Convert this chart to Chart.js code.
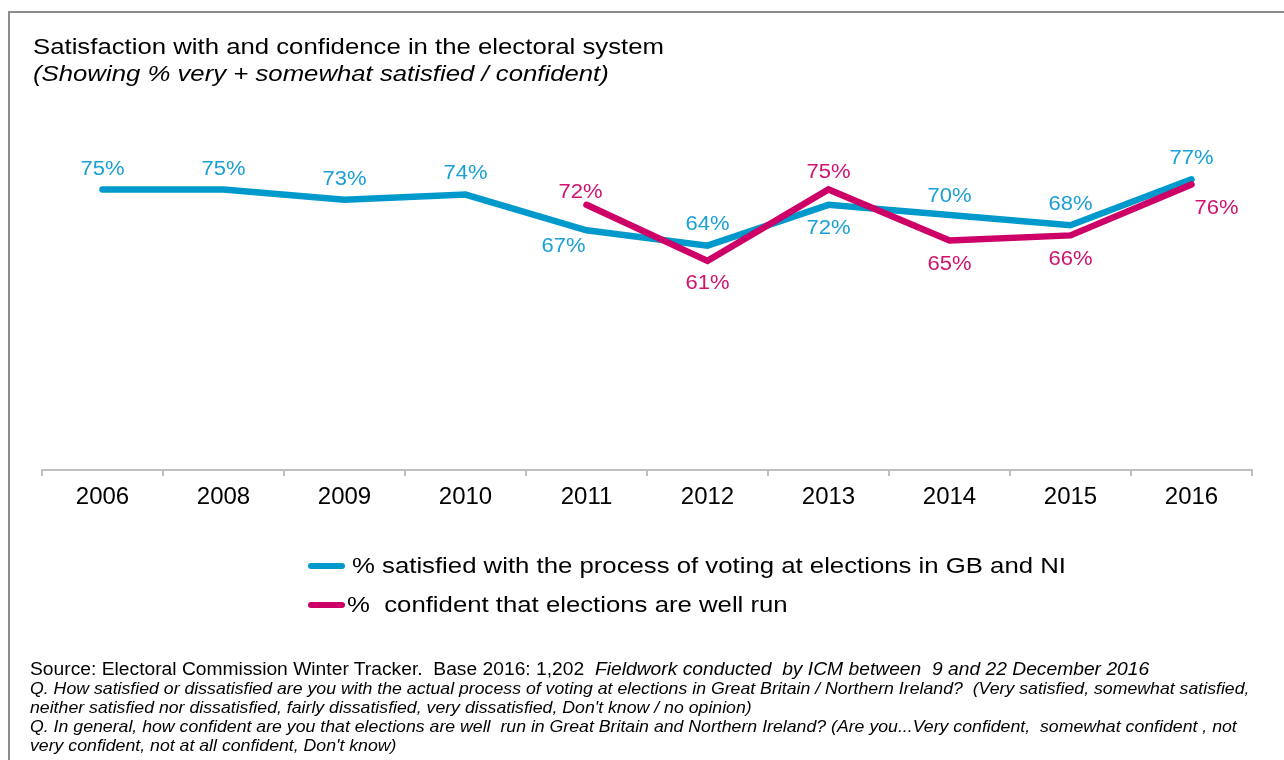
<!DOCTYPE html>
<html>
<head>
<meta charset="utf-8">
<script src="https://cdn.jsdelivr.net/npm/chart.js@4/dist/chart.umd.min.js"></script>
<style>
  html, body { margin: 0; padding: 0; background: #fff; }
  body { width: 1284px; height: 760px; position: relative; overflow: hidden;
         font-family: "Liberation Sans", Arial, sans-serif; color: #000; }
  #frame { position: absolute; left: 8px; top: 11px; right: -4px; bottom: -4px;
           border-left: 2px solid #8c8c8c; border-top: 2px solid #8c8c8c; }
  #wrap { position: absolute; left: 0; top: 0; width: 1284px; height: 760px; }
  .txt { position: absolute; white-space: pre; transform-origin: 0 0; }
  #title { left: 33px; top: 33px; font-size: 22px; line-height: 27px; transform: scaleX(1.17); }
  #title i { font-style: italic; }
  #legend { left: 308px; top: 550px; font-size: 22px; }
  .leg-row { position: relative; height: 39px; }
  .leg-mark { position: absolute; left: 0; top: 13px; width: 37px; height: 6px; border-radius: 3px; }
  .leg-text { position: absolute; top: 3px; white-space: pre; transform-origin: 0 0; transform: scaleX(1.17); }
  #footer { left: 30px; top: 660px; }
  .foot { white-space: pre; transform-origin: 0 0; line-height: 19px; }
  .foot.first { font-size: 17.5px; transform: scaleX(1.1); }
  .foot.q { font-size: 16.1px; font-style: italic; transform: scaleX(1.1); }
</style>
</head>
<body>
<div id="frame"></div>
<div id="wrap"><canvas id="chart"></canvas></div>
<div class="txt" id="title">Satisfaction with and confidence in the electoral system
<i>(Showing % very + somewhat satisfied / confident)</i></div>
<div class="txt" id="legend"></div>
<div class="txt" id="footer"><div class="foot first">Source: Electoral Commission Winter Tracker.  Base 2016: 1,202  <i>Fieldwork conducted  by ICM between  9 and 22 December 2016</i></div><div class="foot q">Q. How satisfied or dissatisfied are you with the actual process of voting at elections in Great Britain / Northern Ireland?  (Very satisfied, somewhat satisfied,</div><div class="foot q">neither satisfied nor dissatisfied, fairly dissatisfied, very dissatisfied, Don't know / no opinion)</div><div class="foot q">Q. In general, how confident are you that elections are well  run in Great Britain and Northern Ireland? (Are you...Very confident,  somewhat confident , not</div><div class="foot q">very confident, not at all confident, Don't know)</div></div>
<script>
// Survey years and results (% very + somewhat)
const years = ['2006', '2008', '2009', '2010', '2011', '2012', '2013', '2014', '2015', '2016'];
const satisfiedVoting = [75, 75, 73, 74, 67, 64, 72, 70, 68, 77];
const confidentWellRun = [null, null, null, null, 72, 61, 75, 65, 66, 76];

const satisfiedLabel = '% satisfied with the process of voting at elections in GB and NI';
const confidentLabel = '%  confident that elections are well run';

const blue = '#0099cc';
const magenta = '#cc0066';

// where each value label sits relative to its point [dx, dy]
const satisfiedLabelPos = [[0, -20], [0, -20], [0, -20], [0, -21], [-23, 16], [0, -21], [0, 24], [0, -19], [0, -21], [0, -21]];
const confidentLabelPos = [null, null, null, null, [-6, -12], [0, 23], [0, -17], [0, 24], [0, 24], [25, 24]];

// value labels next to each point
const valueLabels = {
    id: 'valueLabels',
    afterDatasetsDraw(chart) {
        const ctx = chart.ctx;
        chart.data.datasets.forEach((ds, i) => {
            const meta = chart.getDatasetMeta(i);
            meta.data.forEach((pt, j) => {
                const v = ds.data[j];
                if (v === null || v === undefined) return;
                const off = ds.labelPos[j] || [0, -20];
                ctx.save();
                ctx.translate(pt.x + off[0], pt.y + off[1]);
                ctx.scale(1.1, 1);
                ctx.font = '20px "Liberation Sans", Arial, sans-serif';
                ctx.fillStyle = ds.labelColor;
                ctx.textAlign = 'center';
                ctx.textBaseline = 'middle';
                ctx.fillText(v + '%', 0, 0);
                ctx.restore();
            });
        });
    }
};

const chart = new Chart(document.getElementById('chart'), {
    type: 'line',
    data: {
        labels: years,
        datasets: [
            {
                label: satisfiedLabel,
                data: satisfiedVoting,
                borderColor: blue,
                labelColor: '#1ba0d6',
                borderWidth: 6.5,
                order: 2,
                labelPos: satisfiedLabelPos
            },
            {
                label: confidentLabel,
                data: confidentWellRun,
                borderColor: magenta,
                labelColor: '#d1126f',
                borderWidth: 6.5,
                order: 1,
                labelPos: confidentLabelPos
            }
        ]
    },
    options: {
        responsive: true,
        maintainAspectRatio: false,
        animation: false,
        layout: { padding: { left: 42, right: 32, top: 62, bottom: 230 } },
        elements: {
            line: { tension: 0, borderCapStyle: 'round', borderJoinStyle: 'miter', fill: false },
            point: { radius: 0, hoverRadius: 0 }
        },
        plugins: {
            legend: { display: false },
            tooltip: { enabled: false }
        },
        scales: {
            x: {
                offset: true,
                afterFit(axis) { axis.height = 60; },
                grid: {
                    offset: true,
                    drawOnChartArea: false,
                    drawTicks: true,
                    tickLength: 6,
                    color: '#bfbfbf',
                    lineWidth: 2
                },
                border: { display: true, color: '#bfbfbf', width: 2 },
                ticks: {
                    color: '#000',
                    padding: 7,
                    font: { family: '"Liberation Sans", Arial, sans-serif', size: 24 }
                }
            },
            y: {
                display: false,
                min: 20,
                max: 100
            }
        }
    },
    plugins: [valueLabels]
});

// legend rows built from the datasets
const legendEl = document.getElementById('legend');
chart.data.datasets.forEach((ds, i) => {
    const row = document.createElement('div');
    row.className = 'leg-row';
    const textLeft = i === 0 ? 44 : 39;
    row.innerHTML = `<span class="leg-mark" style="background:${ds.borderColor}"></span>` +
        `<span class="leg-text" style="left:${textLeft}px">${ds.label}</span>`;
    legendEl.appendChild(row);
});
</script>
</body>
</html>
